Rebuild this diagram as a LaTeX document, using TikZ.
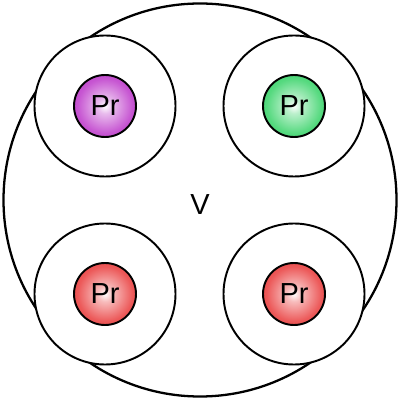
\documentclass[tikz,border=0pt]{standalone}
\usepackage{fontspec}
\setmainfont{Liberation Sans}
\usetikzlibrary{shapes.geometric}

\definecolor{prPurple}{RGB}{180,30,195}
\definecolor{prGreen}{RGB}{30,205,85}
\definecolor{prRed}{RGB}{230,35,35}
\newcommand{\coreshading}[2]{\pgfdeclareradialshading{#1}{\pgfpointorigin}{color(0bp)=(white); color(6bp)=(#2!30!white); color(22bp)=(#2!75!white); color(40bp)=(#2); color(100bp)=(#2)}}
\coreshading{purpleCore}{prPurple}
\coreshading{greenCore}{prGreen}
\coreshading{redCore}{prRed}

\begin{document}
\begin{tikzpicture}
			\tikzstyle{Volume} = [circle, minimum size=7.86cm, inner sep=0pt, draw=black, line width=1.3pt]
			\tikzstyle{Shell} = [circle, minimum size=2.82cm, inner sep=0pt, draw=black, fill=white, line width=1.1pt]
			\tikzstyle{Core} = [circle, minimum size=1.24cm, inner sep=0pt, draw=black, line width=1.1pt, text centered, font=\fontsize{16.5}{19}\selectfont]
			
			\useasboundingbox (-4,-4) rectangle (4,4);
			
			\node (volNode) [Volume] at (0,0) {};
			\node (vLabel) at (0,-0.1) {\fontsize{16.5}{19}\selectfont V};
			\node (shellTL) [Shell] at (-1.9,1.88) {};
			\node (shellTR) [Shell] at (1.88,1.88) {};
			\node (shellBL) [Shell] at (-1.9,-1.88) {};
			\node (shellBR) [Shell] at (1.88,-1.88) {};
			\node (prTL) [Core, shading=purpleCore] at (shellTL) {Pr};
			\node (prTR) [Core, shading=greenCore] at (shellTR) {Pr};
			\node (prBL) [Core, shading=redCore] at (shellBL) {Pr};
			\node (prBR) [Core, shading=redCore] at (shellBR) {Pr};
		\end{tikzpicture}
\end{document}
